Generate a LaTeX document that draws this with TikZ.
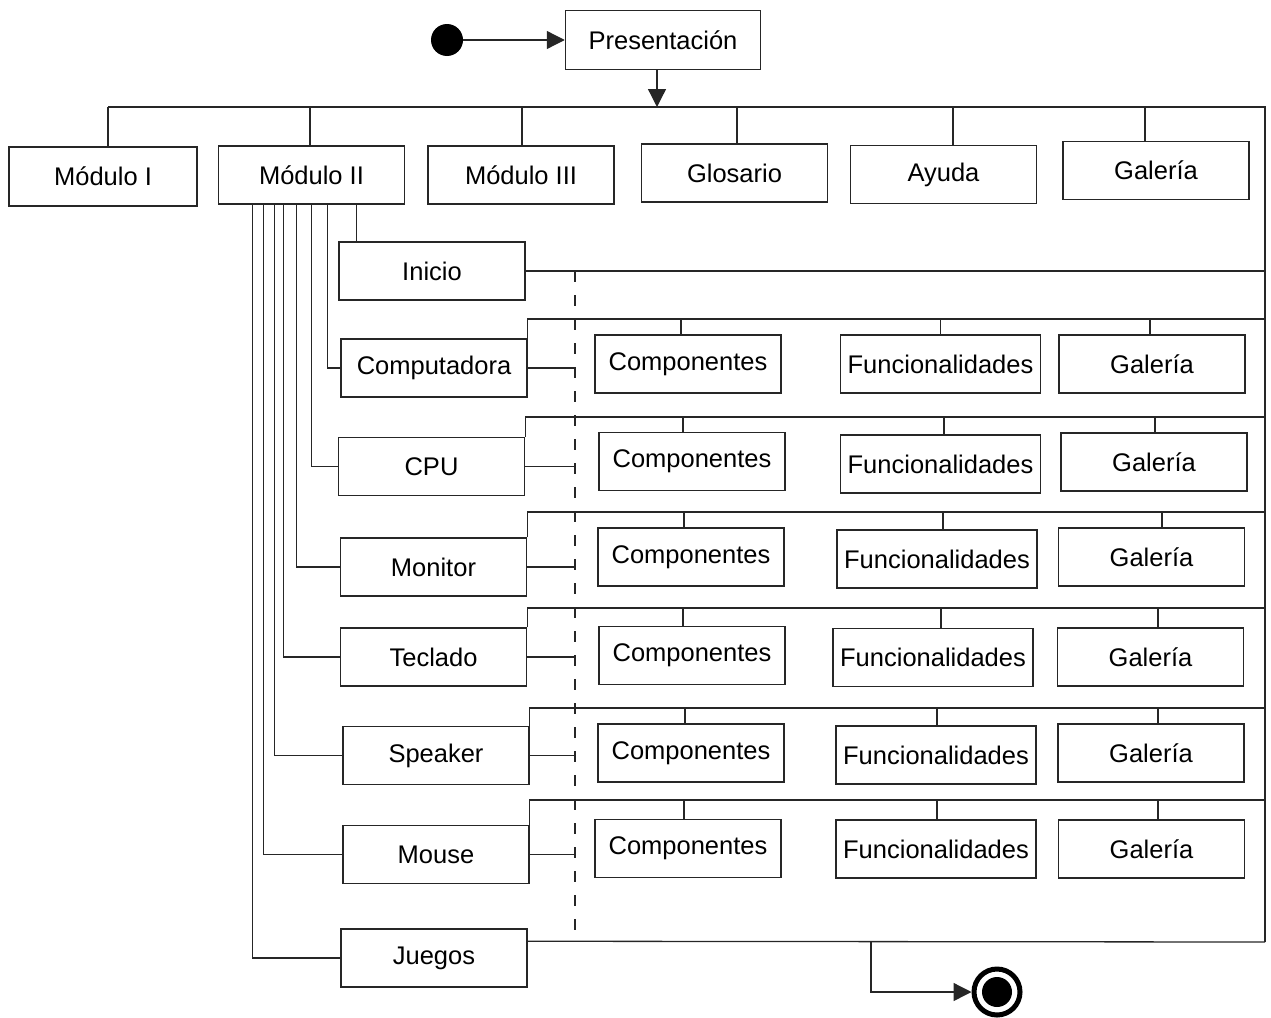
\documentclass[tikz,border=0pt]{standalone}
\usepackage{fontspec}
\setmainfont{Liberation Sans}
\usetikzlibrary{arrows.meta}
\tikzset{
  box/.style={draw=black!85, line width=1.5pt, inner sep=0pt,
    minimum width=186pt, minimum height=58pt, font=\fontsize{25.5}{30}\selectfont},
  wide/.style={box, minimum width=200pt},
  link/.style={draw=black!85, line width=1.3pt},
  flow/.style={link, -{Triangle[length=18pt,width=18pt]}},
  guide/.style={draw=black!85, line width=1.9pt, dash pattern=on 11pt off 13pt},
}
% vertical stem from a point on a box's top edge (shifted by #2) up to the line through #3
\newcommand\stemto[3]{\path (#1.north) ++(#2,0) coordinate (stemtmp);
  \draw[link] (stemtmp) -- (stemtmp |- #3);}
\begin{document}
\begin{tikzpicture}[x=1pt,y=-1pt]
\useasboundingbox (0,0) rectangle (1271,1017);

% start and title
\node[circle, fill=black, minimum size=32pt, inner sep=0pt] (start) at (447,40) {};
\node[box, minimum width=195pt, minimum height=59pt] (pres) at (663,40) {Presentación};
\draw[flow] (start) -- (pres);

\coordinate (tj) at (657,107);
\coordinate (tl) at (108,107);
\coordinate (tr) at (1265,107);
\coordinate (br) at (1265,942);
\draw[link] (tl) -- (tr) -- (br);
\draw[flow] (pres.south -| tj) -- (tj);

% main menu
\node[box, minimum width=188pt, minimum height=59pt] (m1) at (103,176.5) {Módulo I};
\node[box] (m2) at (311.5,175) {Módulo II};
\node[box] (m3) at (521,175) {Módulo III};
\node[box] (glos) at (734.5,173) {Glosario};
\node[box] (ayuda) at (943.5,174.5) {Ayuda};
\node[box] (galt) at (1156,170.5) {Galería};
\stemto{m1}{5}{tl}
\stemto{m2}{-1.5}{tl}
\stemto{m3}{1}{tl}
\stemto{glos}{2.5}{tl}
\stemto{ayuda}{9.5}{tl}
\stemto{galt}{-11}{tl}

% sections of Módulo II
\node[box] (ini) at (432,271) {Inicio};
\node[box] (comp) at (434,368) {Computadora};
\node[box] (cpu) at (431.5,466.5) {CPU};
\node[box] (mon) at (433.5,567) {Monitor};
\node[box] (tec) at (433.5,657) {Teclado};
\node[box] (spk) at (436,755.5) {Speaker};
\node[box] (mou) at (436,854.5) {Mouse};
\node[box] (jue) at (434,958) {Juegos};

\path (m2.south west) ++(138.5,0) coordinate (d1);
\path (m2.south west) ++(109.5,0) coordinate (d2);
\path (m2.south west) ++(93.5,0) coordinate (d3);
\path (m2.south west) ++(78.5,0) coordinate (d4);
\path (m2.south west) ++(65.5,0) coordinate (d5);
\path (m2.south west) ++(56.5,0) coordinate (d6);
\path (m2.south west) ++(45.5,0) coordinate (d7);
\path (m2.south west) ++(34.5,0) coordinate (d8);
\draw[link] (d1) -- (d1 |- ini.north);
\draw[link] (d2) |- (comp.west);
\draw[link] (d3) |- (cpu.west);
\draw[link] (d4) |- (mon.west);
\draw[link] (d5) |- (tec.west);
\draw[link] (d6) |- (spk.west);
\draw[link] (d7) |- (mou.west);
\draw[link] (d8) |- (jue.west);

% dashed return guide
\coordinate (dtop) at (575,271);
\coordinate (dbot) at (575,942);
\draw[guide] (dtop) -- (dbot);
\draw[link] (ini.east) -- (ini.east -| br);
\path (jue.north east) ++(0,13) coordinate (jo);
\draw[link] (jo) -- (br);

% row rails
\coordinate (re1) at (1265,319);
\coordinate (re2) at (1265,417);
\coordinate (re3) at (1265,512);
\coordinate (re4) at (1265,608);
\coordinate (re5) at (1265,708);
\coordinate (re6) at (1265,800);
\draw[link] (comp.north east) |- (re1);
\draw[link] (cpu.north east) |- (re2);
\draw[link] (mon.north east) |- (re3);
\draw[link] (tec.north east) |- (re4);
\draw[link] (spk.north east) |- (re5);
\draw[link] (mou.north east) |- (re6);
\foreach \n in {comp,cpu,mon,tec,spk,mou}
  \draw[link] (\n.east) -- (\n.east -| dtop);

% sub-pages of each section
\node[box] (c1) at (688,364) {Componentes};
\node[wide] (f1) at (940.5,364) {Funcionalidades};
\node[box] (g1) at (1152,364) {Galería};
\node[box] (c2) at (692,461.5) {Componentes};
\node[wide] (f2) at (940.5,464) {Funcionalidades};
\node[box] (g2) at (1154,462) {Galería};
\node[box] (c3) at (691,557) {Componentes};
\node[wide] (f3) at (937,559) {Funcionalidades};
\node[box] (g3) at (1151.5,557) {Galería};
\node[box] (c4) at (692,655.5) {Componentes};
\node[wide] (f4) at (933,657.5) {Funcionalidades};
\node[box] (g4) at (1150.5,657) {Galería};
\node[box] (c5) at (691,753) {Componentes};
\node[wide] (f5) at (936,755) {Funcionalidades};
\node[box] (g5) at (1151,753) {Galería};
\node[box] (c6) at (688,848.5) {Componentes};
\node[wide] (f6) at (936,849) {Funcionalidades};
\node[box] (g6) at (1151.5,849) {Galería};
\stemto{c1}{-7}{re1} \stemto{f1}{0}{re1} \stemto{g1}{-2}{re1}
\stemto{c2}{-9}{re2} \stemto{f2}{3.5}{re2} \stemto{g2}{1}{re2}
\stemto{c3}{-7}{re3} \stemto{f3}{6}{re3} \stemto{g3}{10.5}{re3}
\stemto{c4}{-9}{re4} \stemto{f4}{8}{re4} \stemto{g4}{7.5}{re4}
\stemto{c5}{-6}{re5} \stemto{f5}{1}{re5} \stemto{g5}{7}{re5}
\stemto{c6}{-4}{re6} \stemto{f6}{1}{re6} \stemto{g6}{6.5}{re6}

% end
\coordinate (bj) at (871,942);
\node[circle, draw=black, line width=5pt, minimum size=46pt, inner sep=0pt] (end) at (997,992) {};
\fill[black] (end.center) circle (15pt);
\draw[flow] (bj) |- (end);
\end{tikzpicture}
\end{document}
